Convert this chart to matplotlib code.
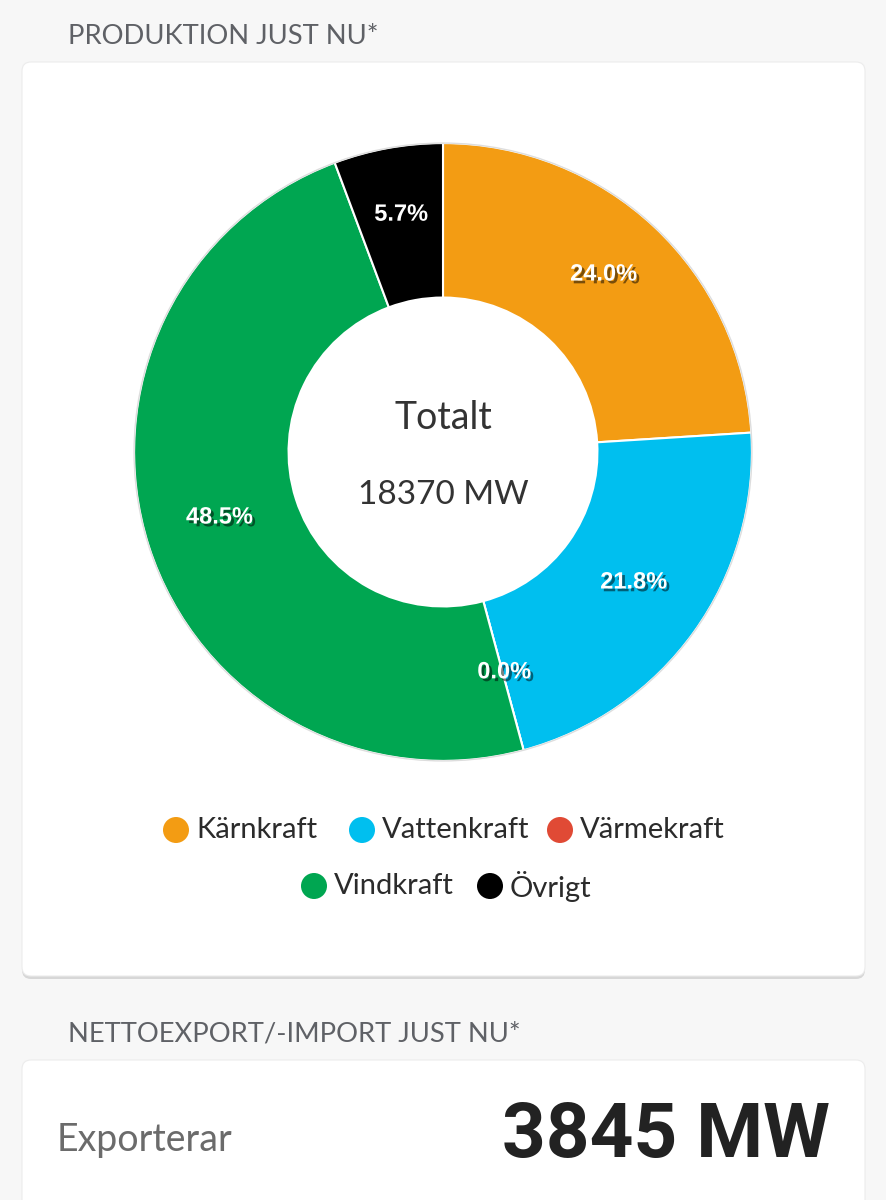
import matplotlib.pyplot as plt
import matplotlib.patheffects as pe
from matplotlib.patches import FancyBboxPatch, Circle

# Data
kategorier = ['Kärnkraft', 'Vattenkraft', 'Värmekraft', 'Vindkraft', 'Övrigt']
andelar = [24.0, 21.8, 0.0, 48.5, 5.7]
farger = ['#F39C13', '#00BFEF', '#E04A35', '#00A651', '#000000']
totalt_mw = 18370
export_mw = 3845

W, H = 887, 1200
fig = plt.figure(figsize=(W / 100, H / 100), dpi=100)
fig.patch.set_facecolor('#f7f7f7')

# Background axes in pixel coordinates (y downwards)
bg = fig.add_axes([0, 0, 1, 1])
bg.set_xlim(0, W)
bg.set_ylim(H, 0)
bg.axis('off')

def card(x0, y0, x1, y1):
    # shadow
    bg.add_patch(FancyBboxPatch((x0, y0 + 3), x1 - x0, y1 - y0,
                                boxstyle='round,pad=0,rounding_size=9',
                                facecolor='#cfcfcf', edgecolor='none', alpha=0.8))
    bg.add_patch(FancyBboxPatch((x0, y0), x1 - x0, y1 - y0,
                                boxstyle='round,pad=0,rounding_size=9',
                                facecolor='white', edgecolor='#ececec', lw=0.8))

card(22, 62, 865, 976)
card(22, 1060, 865, 1240)

head_color = '#5f6166'
bg.text(68, 36, 'PRODUKTION JUST NU*', fontsize=19.7, color=head_color,
        family='Lato', va='center', ha='left')
bg.text(68, 1034, 'NETTOEXPORT/-IMPORT JUST NU*', fontsize=19.7, color=head_color,
        family='Lato', va='center', ha='left')
bg.text(57, 1140, 'Exporterar', fontsize=27, color='#6b6b6b',
        family='Lato', va='center', ha='left')
bg.text(830, 1137, f'{export_mw} MW', fontsize=55, color='#222222',
        family='Roboto', weight='bold', va='center', ha='right')

# Legend (drawn manually, centered rows)
leg_font = dict(fontsize=21, color='#2b2b2b', family='Lato', va='center', ha='left')
rader = [(830, [(0, 176), (1, 362), (2, 560)]),
         (886, [(3, 314), (4, 490)])]
for y, items in rader:
    for i, x in items:
        bg.add_patch(Circle((x, y), 13, facecolor=farger[i], edgecolor='none'))
        bg.text(x + 20, y, kategorier[i], **leg_font)

# Donut chart
cx, cy, r = 443, 452, 312
ax = fig.add_axes([(cx - r) / W, 1 - (cy + r) / H, 2 * r / W, 2 * r / H])
ax.set_aspect('equal')
wedges, texts, autotexts = ax.pie(
    andelar, colors=farger, startangle=90, counterclock=False,
    radius=1, autopct='%1.1f%%', pctdistance=0.76,
    wedgeprops=dict(width=0.5, edgecolor='white', linewidth=1.5),
    textprops=dict(color='white', fontsize=17, weight='bold', family='Liberation Sans'))
for t in autotexts:
    t.set_y(t.get_position()[1] + 0.022)
    t.set_path_effects([pe.withSimplePatchShadow(offset=(2, -2),
                                                 shadow_rgbFace='black', alpha=0.5)])
ax.add_patch(Circle((0, 0), 1.0, facecolor='none', edgecolor='#dddddd', lw=1))
ax.set_xlim(-1.01, 1.01)
ax.set_ylim(-1.01, 1.01)

ax.text(0, 0.11, 'Totalt', ha='center', va='center', fontsize=27,
        color='#333333', family='Lato')
ax.text(0, -0.14, f'{totalt_mw} MW', ha='center', va='center', fontsize=24,
        color='#333333', family='Lato')

fig.savefig('out.png', dpi=100, facecolor=fig.get_facecolor())
